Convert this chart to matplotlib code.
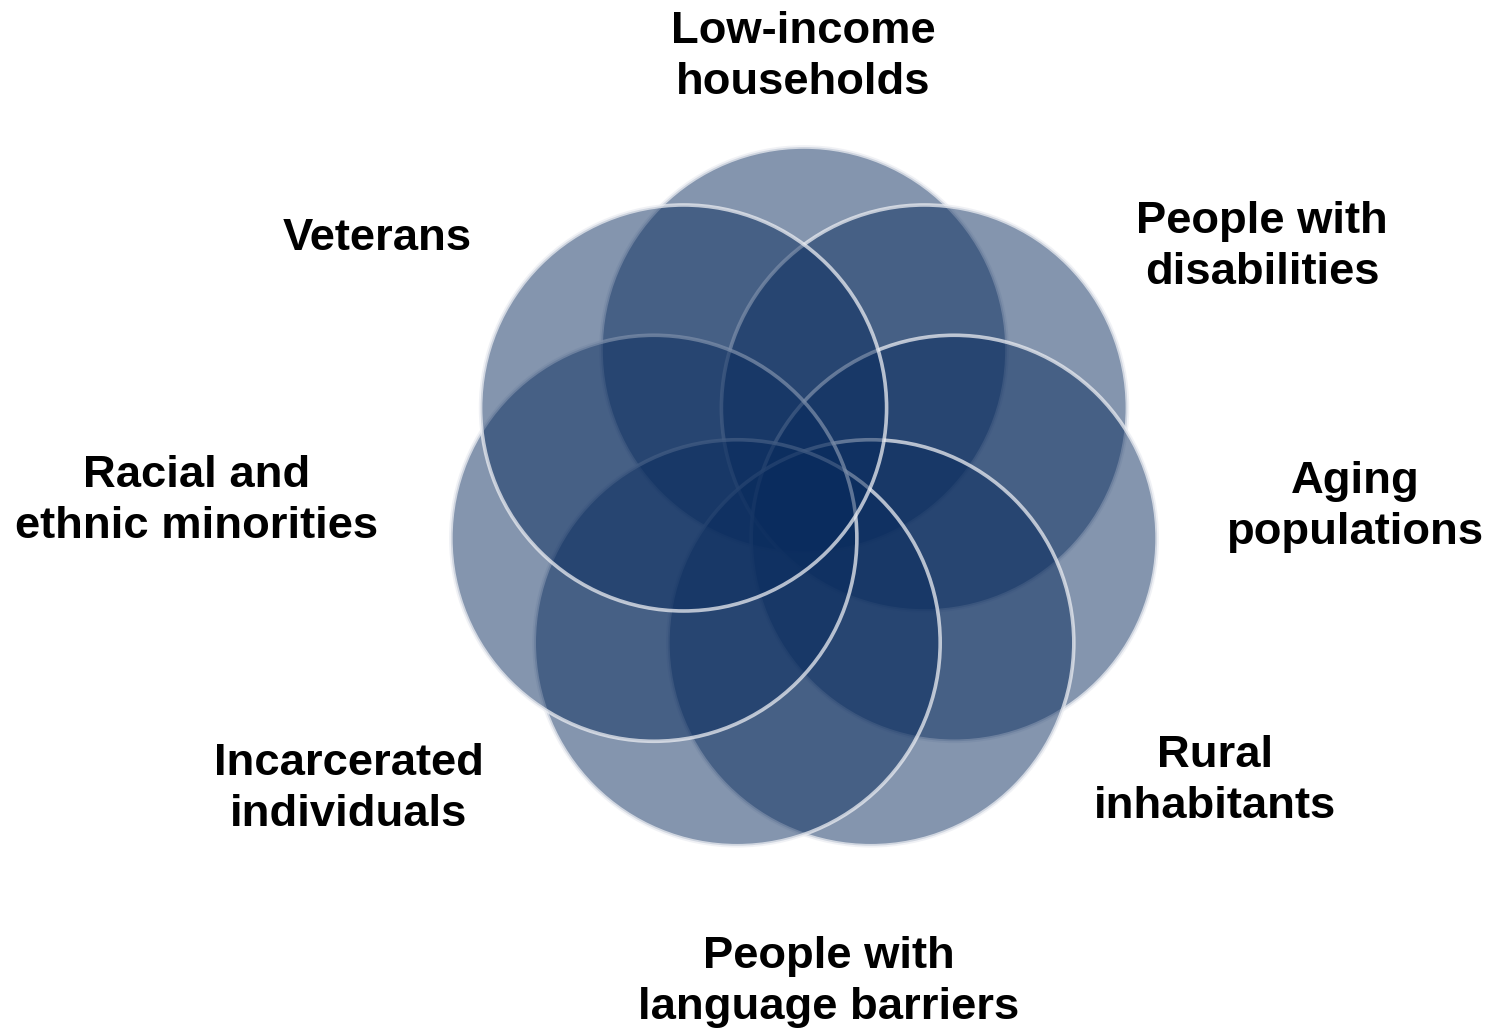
import numpy as np
import matplotlib
matplotlib.use("Agg")
import matplotlib.pyplot as plt
from matplotlib.patches import Circle

# Data
categories = [
    "Low-income\nhouseholds",
    "People with\ndisabilities",
    "Aging\npopulations",
    "Rural\ninhabitants",
    "People with\nlanguage barriers",
    "Incarcerated\nindividuals",
    "Racial and\nethnic minorities",
    "Veterans",
]

# Label positions (pixel coords in a 1488x1030 canvas)
label_x = [803, 1262, 1355, 1215, 829, 349, 197, 377]
label_y = [57, 247, 507, 781, 982, 789, 501, 238]

# Layout
W, H = 1488, 1030
cx, cy = 804, 504
ring_r = 154
circ_r = 203
n_circles = 7
base_color = (10/255, 44/255, 94/255)

fig = plt.figure(figsize=(W/100, H/100), dpi=100)
ax = fig.add_axes([0, 0, 1, 1])
ax.set_xlim(0, W)
ax.set_ylim(H, 0)
ax.set_aspect("equal")
ax.axis("off")

angles = np.deg2rad(90 - np.arange(n_circles) * 360 / n_circles)
for a in angles:
    x = cx + ring_r * np.cos(a)
    y = cy - ring_r * np.sin(a)
    ax.add_patch(Circle((x, y), circ_r, facecolor=(*base_color, 0.5),
                        edgecolor=(0.92, 0.93, 0.95, 0.75), linewidth=2.6))

for lbl, x, y in zip(categories, label_x, label_y):
    ax.text(x, y, lbl, ha="center", va="center", fontsize=32.7,
            fontweight="bold", family="Liberation Sans", color="black",
            linespacing=1.3)

fig.savefig("out.png", dpi=100)
